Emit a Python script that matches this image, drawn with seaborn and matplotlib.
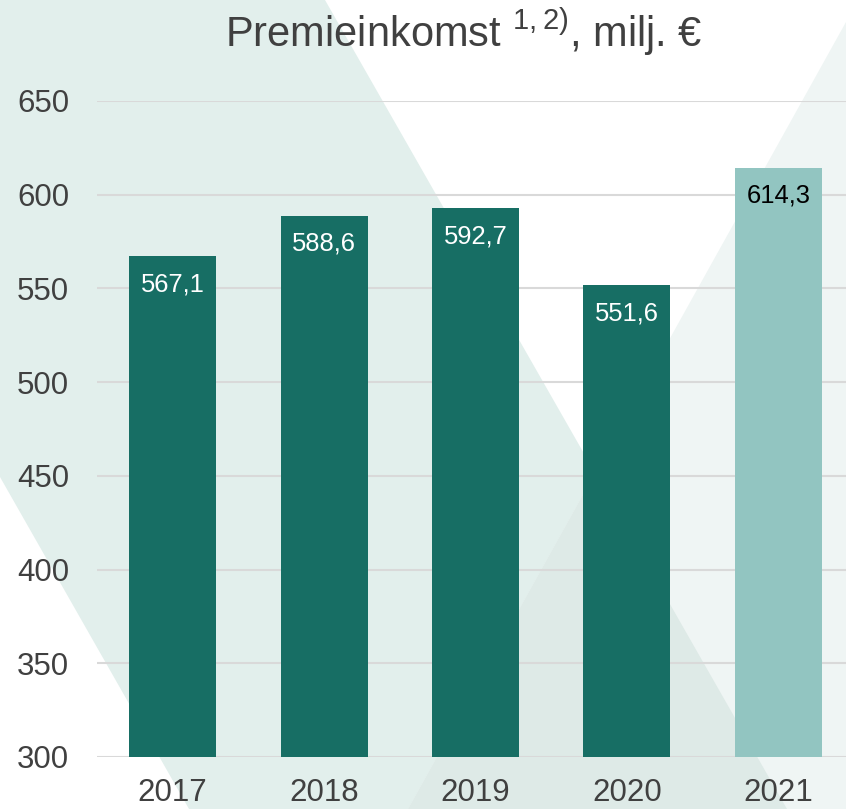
import matplotlib
matplotlib.use("Agg")
import matplotlib.pyplot as plt
from matplotlib.patches import Polygon
import seaborn as sns
import pandas as pd

# data
years = ["2017", "2018", "2019", "2020", "2021"]
premie = [567.1, 588.6, 592.7, 551.6, 614.3]
labels = ["567,1", "588,6", "592,7", "551,6", "614,3"]
bar_colors = ["#176e64", "#176e64", "#176e64", "#176e64", "#92c5c1"]
label_colors = ["white", "white", "white", "white", "black"]
y_ticks = [300, 350, 400, 450, 500, 550, 600, 650]

sns.set_style("white")
plt.rcParams["font.family"] = ["Liberation Sans", "DejaVu Sans"]
plt.rcParams["mathtext.default"] = "regular"

W, H = 846, 809
fig = plt.figure(figsize=(W / 100, H / 100), dpi=100)
fig.patch.set_facecolor("white")


def px(points):
    # pixel coords (from top-left) -> figure fraction
    return [(x / W, 1 - y / H) for x, y in points]


# decorative background shapes
stripe_pts = [(0, 0), (325, 0), (787, 809), (189, 809), (0, 477)]
right_pts = [(846, 22), (408, 809), (846, 809)]
stripe = Polygon(px(stripe_pts), closed=True, transform=fig.transFigure,
                 facecolor="#e2efec", edgecolor="none", zorder=-3)
right = Polygon(px(right_pts), closed=True, transform=fig.transFigure,
                facecolor="#eff5f4", edgecolor="none", zorder=-2)
overlap = Polygon(px(stripe_pts), closed=True, transform=fig.transFigure,
                  facecolor="#deeae7", edgecolor="none", zorder=-1)
fig.patches.extend([stripe, right, overlap])
overlap.set_clip_path(right)

ax = fig.add_axes([97 / W, 1 - 757 / H, 757 / W, 656 / H])
ax.set_facecolor("none")

df = pd.DataFrame({"year": years, "value": premie})
sns.barplot(data=df, x="year", y="value", hue="year", palette=bar_colors,
            legend=False, width=0.575, saturation=1, linewidth=0,
            edgecolor="none", ax=ax)

for i, (v, lab) in enumerate(zip(premie, labels)):
    ax.annotate(lab, xy=(i, v), xytext=(0, -20), textcoords="offset points",
                ha="center", va="center", fontsize=18.4, color=label_colors[i])

ax.set_ylim(300, 650)
ax.set_xlim(-0.5, 4.5)
ax.set_yticks(y_ticks)
ax.yaxis.grid(True, color="#d9d9d9", linewidth=1.5)
ax.set_axisbelow(True)
for s in ax.spines.values():
    s.set_visible(False)
ax.tick_params(axis="y", length=0, pad=20, labelsize=22.5, labelcolor="#404040")
ax.tick_params(axis="x", length=0, pad=15, labelsize=22.5, labelcolor="#404040")
ax.set_xlabel("")
ax.set_ylabel("")

fig.text(464 / W, 1 - 47 / H, r"Premieinkomst $^{1,2)}$, milj. €",
         ha="center", va="baseline", fontsize=30, color="#404040")

fig.savefig("out.png", dpi=100)
